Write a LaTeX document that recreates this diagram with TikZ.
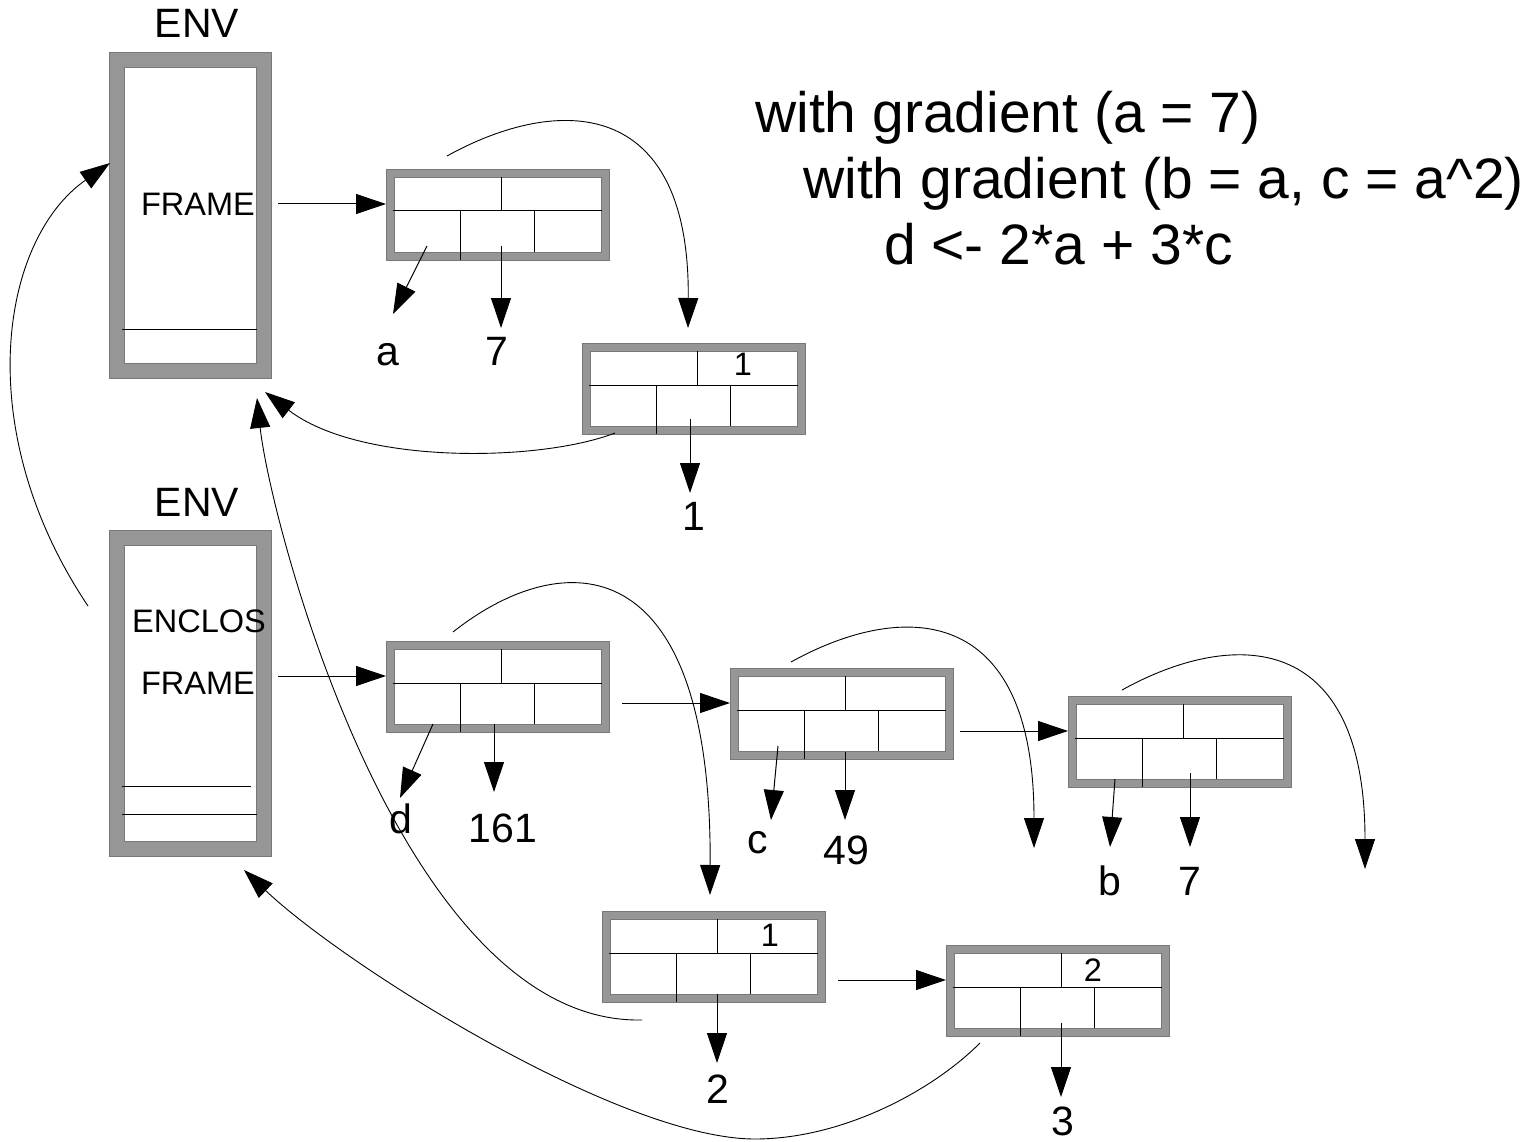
\documentclass[tikz,border=0pt]{standalone}
\usepackage{fontspec}
\setmainfont{Liberation Sans}
\usetikzlibrary{arrows.meta,calc}
\definecolor{boxgray}{RGB}{150,150,150}
\definecolor{edgegray}{RGB}{120,120,120}
\begin{document}
\begin{tikzpicture}[x=1pt,y=-1pt,
  arr/.style={line width=1pt,-{Triangle[length=30pt,width=20pt]}},
  crv/.style={line width=0.9pt,-{Triangle[length=30pt,width=20pt]}},
  cell/.style={line width=1pt,black},
  edge/.style={line width=0.7pt,edgegray},
  recframe/.style={draw=boxgray,line width=8pt,minimum width=215pt,minimum height=83pt,inner sep=0pt,outer sep=4pt,fill=white},
  envframe/.style={draw=boxgray,line width=15pt,minimum width=147pt,minimum height=311pt,inner sep=0pt,outer sep=7.5pt,fill=white},
  lbl/.style={font=\fontsize{41}{49}\selectfont,inner sep=0pt,anchor=base},
  mid/.style={font=\fontsize{32.5}{39}\selectfont,inner sep=0pt,anchor=base},
  big/.style={font=\fontsize{57}{66}\selectfont,inner sep=0pt,anchor=base west},
  record/.pic={
    \node[recframe] (-box) at (111.5,45.5) {};
    \draw[edge] (0,0) rectangle (223,91);
    \draw[edge] (8,8) rectangle (215,83);
    \draw[cell] (7,42) -- (216,42) (115,8) -- (115,42) (74,42) -- (74,91) (148,42) -- (148,83);
    \coordinate (-in) at (0,35);
  }
]
\useasboundingbox (0,0) rectangle (1532,1142);
\fill[white] (0,0) rectangle (1532,1142);

% ENV frames
\node[envframe] (env1) at (190,215) {};
\draw[edge] (env1.north west) rectangle (env1.south east);
\draw[edge] ($(env1.north west)+(15,15)$) rectangle ($(env1.south east)+(-15,-15)$);
\draw[cell] ($(env1.north west)+(13,277)$) -- ($(env1.north west)+(148,277)$);

\node[envframe] (env2) at (190,693) {};
\draw[edge] (env2.north west) rectangle (env2.south east);
\draw[edge] ($(env2.north west)+(15,15)$) rectangle ($(env2.south east)+(-15,-15)$);
\draw[cell] ($(env2.north west)+(13,256)$) -- ($(env2.north west)+(142,256)$);
\draw[cell] ($(env2.north west)+(13,284)$) -- ($(env2.north west)+(148,284)$);

\node[lbl] (envt1) at (197,38) {ENV};
\node[lbl] (envt2) at (197,516) {ENV};
\node[mid] (frame1) at (198,216) {FRAME};
\node[mid] (enclos) at (199,632) {ENCLOS};
\node[mid] (frame2) at (198,694) {FRAME};

% records
\pic (b1) at (386,169) {record};
\pic (b2) at (582,343) {record};
\pic (b3) at (386,641) {record};
\pic (b4) at (730,668) {record};
\pic (b5) at (1068,696) {record};
\pic (b6) at (602,911) {record};
\pic (b7) at (946,945) {record};

\node[mid] (s1) at (743,375) {1};
\node[mid] (s2) at (770,946) {1};
\node[mid] (s3) at (1093,981) {2};

% value labels
\node[lbl] (la) at (388,365) {a};
\node[lbl] (l7a) at (497,365) {7};
\node[lbl] (l1) at (694,530) {1};
\node[lbl] (ld) at (401,833) {d};
\node[lbl] (l161) at (503,842) {161};
\node[lbl] (lc) at (758,853) {c};
\node[lbl] (l49) at (846,864) {49};
\node[lbl] (lb) at (1110,895) {b};
\node[lbl] (l7b) at (1190,895) {7};
\node[lbl] (l2) at (718,1103) {2};
\node[lbl] (l3) at (1063,1135) {3};

% free ends
\coordinate (ta) at (393,314);
\coordinate (t7a) at (501,328);
\coordinate (t1) at (690,493);
\coordinate (td) at (400,798);
\coordinate (t161) at (494,792);
\coordinate (tc) at (771,820);
\coordinate (t49) at (845,820);
\coordinate (tb) at (1110,847);
\coordinate (t7b) at (1190,847);
\coordinate (t2) at (717,1063);
\coordinate (t3) at (1061,1097);
\coordinate (tc4) at (1034,848);
\coordinate (tc5) at (1365,869);

% horizontal links
\draw[arr] ([xshift=-108pt]b1-in) -- (b1-in);
\draw[arr] ([xshift=-108pt]b3-in) -- (b3-in);
\draw[arr] ([xshift=-108pt]b4-in) -- (b4-in);
\draw[arr] ([xshift=-108pt]b5-in) -- (b5-in);
\draw[arr] ([xshift=-108pt]b7-in) -- (b7-in);

% key / value arrows
\draw[arr] ($(b1-box.north west)+(41,77)$) -- (ta);
\draw[arr] ($(b1-box.north west)+(115,77)$) -- (t7a);
\draw[arr] ($(b2-box.north west)+(108,76)$) -- (t1);
\draw[arr] ($(b3-box.north west)+(47,83)$) -- (td);
\draw[arr] ($(b3-box.north west)+(108,83)$) -- (t161);
\draw[arr] ($(b4-box.north west)+(48,78)$) -- (tc);
\draw[arr] ($(b4-box.north west)+(115,84)$) -- (t49);
\draw[arr] ($(b5-box.north west)+(47,83)$) -- (tb);
\draw[arr] ($(b5-box.north west)+(122,77)$) -- (t7b);
\draw[arr] ($(b6-box.north west)+(115,83)$) -- (t2);
\draw[arr] ($(b7-box.north west)+(115,78)$) -- (t3);

% curved links
\draw[crv] ($(b1-box.north west)+(61,-13)$) .. controls (557,95) and (690,95) .. ($(b2-box.north west)+(106,-15)$);
\draw[crv] ($(b2-box.north west)+(33,90)$) .. controls (540,462) and (360,465) .. ($(env1.south east)+(-6,14)$);
\draw[crv] ($(b3-box.north west)+(67,-9)$) .. controls (563,545) and (712,545) .. ($(b6-box.north west)+(108,-16)$);
\draw[crv] ($(b4-box.north west)+(61,-6)$) .. controls (901,601) and (1034,601) .. (tc4);
\draw[crv] ($(b5-box.north west)+(54,-6)$) .. controls (1232,629) and (1365,629) .. (tc5);
\draw[crv] ($(b6-box.north west)+(40,109)$) .. controls (400,1025) and (270,520) .. ($(env1.south east)+(-14,20)$);
\draw[crv] ($(b7-box.north west)+(34,98)$) .. controls (930,1093) and (840,1139) .. (755,1139) .. controls (620,1139) and (344,965) .. ($(env2.south east)+(-27,14)$);
\draw[crv] ($(env2.north west)+(-21,76)$) .. controls (-30,430) and (0,240) .. ($(env1.north west)+(1,111)$);

% code text
\node[big] (code1) at (755,133) {with gradient (a = 7)};
\node[big] (code2) at (803,199) {with gradient (b = a, c = a\textasciicircum 2)};
\node[big] (code3) at (884,265) {d <- 2*a + 3*c};
\end{tikzpicture}
\end{document}
